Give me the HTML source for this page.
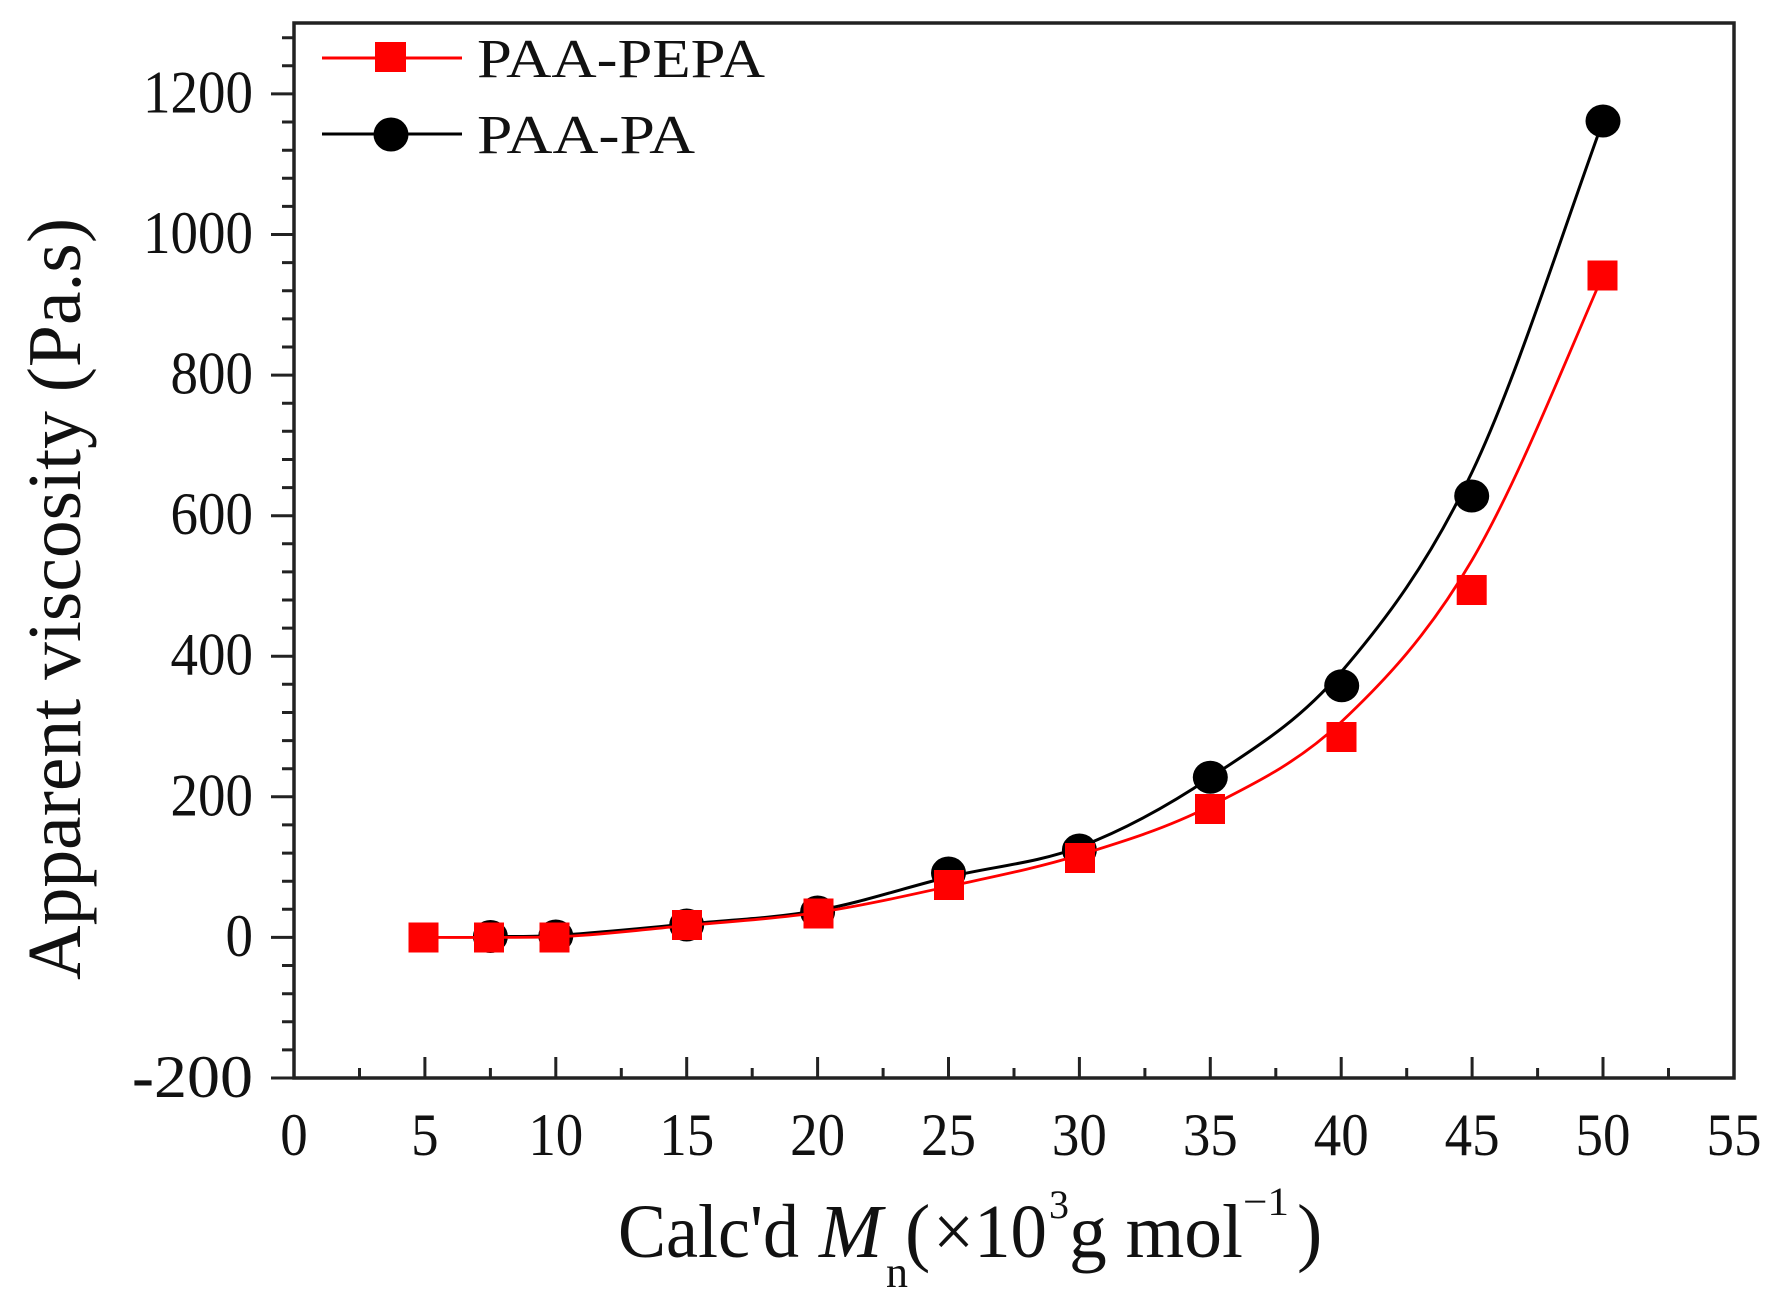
<!DOCTYPE html>
<html>
<head>
<meta charset="utf-8">
<style>
  html, body { margin: 0; padding: 0; background: #ffffff; }
  svg { display: block; }
  text { font-family: "Liberation Serif", "Times New Roman", serif; fill: #111; }
</style>
</head>
<body>
<svg width="1782" height="1311" viewBox="0 0 1782 1311" xmlns="http://www.w3.org/2000/svg">
  <rect x="0" y="0" width="1782" height="1311" fill="#ffffff"/>

  <!-- Y ticks (outward) -->
  <path stroke="#222" stroke-width="3" fill="none" d="
    M271,1078H294 M271,937.4H294 M271,796.8H294 M271,656.2H294 M271,515.7H294 M271,375.1H294 M271,234.5H294 M271,93.9H294
    M282,1049.9H294 M282,1021.8H294 M282,993.7H294 M282,965.5H294
    M282,909.3H294 M282,881.2H294 M282,853.1H294 M282,824.9H294
    M282,768.7H294 M282,740.6H294 M282,712.5H294 M282,684.3H294
    M282,628.1H294 M282,600H294 M282,571.9H294 M282,543.8H294
    M282,487.6H294 M282,459.5H294 M282,431.3H294 M282,403.2H294
    M282,347H294 M282,318.9H294 M282,290.8H294 M282,262.6H294
    M282,206.4H294 M282,178.3H294 M282,150.2H294 M282,122H294
    M282,65.8H294 M282,37.7H294"/>

  <!-- X ticks (inward) -->
  <path stroke="#222" stroke-width="3" fill="none" d="
    M424.9,1078V1057 M555.8,1078V1057 M686.7,1078V1057 M817.6,1078V1057 M948.5,1078V1057
    M1079.4,1078V1057 M1210.3,1078V1057 M1341.2,1078V1057 M1472.1,1078V1057 M1603,1078V1057
    M359.5,1078V1068 M490.4,1078V1068 M621.3,1078V1068 M752.2,1078V1068 M883.1,1078V1068
    M1014,1078V1068 M1144.9,1078V1068 M1275.8,1078V1068 M1406.7,1078V1068 M1537.6,1078V1068 M1668.5,1078V1068"/>

  <!-- Frame -->
  <rect x="294" y="23" width="1440" height="1055" fill="none" stroke="#222" stroke-width="3.5"/>

  <!-- Y tick labels -->
  <g font-size="55" text-anchor="end">
    <text transform="translate(253,112.5) scale(1,1.1)">1200</text>
    <text transform="translate(253,253) scale(1,1.1)">1000</text>
    <text transform="translate(253,393.6) scale(1,1.1)">800</text>
    <text transform="translate(253,534.2) scale(1,1.1)">600</text>
    <text transform="translate(253,674.7) scale(1,1.1)">400</text>
    <text transform="translate(253,815.3) scale(1,1.1)">200</text>
    <text transform="translate(253,955.9) scale(1,1.1)">0</text>
    <text transform="translate(253,1097) scale(1,1.1)" textLength="121" lengthAdjust="spacingAndGlyphs"><tspan font-weight="bold">-</tspan>200</text>
  </g>

  <!-- X tick labels -->
  <g font-size="55" text-anchor="middle">
    <text transform="translate(294,1155) scale(1,1.1)">0</text>
    <text transform="translate(424.9,1155) scale(1,1.1)">5</text>
    <text transform="translate(555.8,1155) scale(1,1.1)">10</text>
    <text transform="translate(686.7,1155) scale(1,1.1)">15</text>
    <text transform="translate(817.6,1155) scale(1,1.1)">20</text>
    <text transform="translate(948.5,1155) scale(1,1.1)">25</text>
    <text transform="translate(1079.4,1155) scale(1,1.1)">30</text>
    <text transform="translate(1210.3,1155) scale(1,1.1)">35</text>
    <text transform="translate(1341.2,1155) scale(1,1.1)">40</text>
    <text transform="translate(1472.1,1155) scale(1,1.1)">45</text>
    <text transform="translate(1603,1155) scale(1,1.1)">50</text>
    <text transform="translate(1734,1155) scale(1,1.1)">55</text>
  </g>

  <!-- Y axis title -->
  <text transform="translate(80,980) rotate(-90)" font-size="76" textLength="762" lengthAdjust="spacingAndGlyphs">Apparent viscosity (Pa.s)</text>

  <!-- X axis title -->
  <text x="618" y="1257" font-size="76" textLength="181" lengthAdjust="spacingAndGlyphs">Calc'd</text>
  <text x="819" y="1257" font-size="76" font-style="italic">M</text>
  <text x="886" y="1287" font-size="44">n</text>
  <text x="905" y="1257" font-size="76">(</text>
  <text x="933" y="1257" font-size="76" textLength="114" lengthAdjust="spacingAndGlyphs">×10</text>
  <text x="1049" y="1218" font-size="40">3</text>
  <text x="1069" y="1257" font-size="76" textLength="174" lengthAdjust="spacingAndGlyphs">g mol</text>
  <text x="1243" y="1215" font-size="40" textLength="46" lengthAdjust="spacingAndGlyphs">−1</text>
  <text x="1297" y="1257" font-size="76">)</text>

  <!-- Black curve (PAA-PA) -->
  <path fill="none" stroke="#000" stroke-width="3" d="
    M490.4,936.5
    C512.2,936.5 534,936.9 555.8,935.5
    C599.4,932.7 643.1,928.2 686.7,924
    C730.3,919.8 774,918.3 817.6,910.5
    C861.2,902.7 904.9,887.6 948.5,877
    C992.1,866.4 1035.8,863.6 1079.4,847
    C1123,830.4 1166.7,806.7 1210.3,777.5
    C1253.9,748.4 1297.6,722.9 1341.2,672
    C1384.8,621.1 1428.5,563.8 1472.1,472
    C1515.7,380.2 1559.4,241 1603,121"/>

  <!-- Black circles -->
  <g fill="#000">
    <ellipse cx="490.4" cy="936.5" rx="17.5" ry="16.5"/>
    <ellipse cx="555.8" cy="936" rx="17.5" ry="16.5"/>
    <ellipse cx="686.7" cy="925" rx="17.5" ry="16.5"/>
    <ellipse cx="817.6" cy="912" rx="17.5" ry="16.5"/>
    <ellipse cx="948.5" cy="873" rx="17.5" ry="16.5"/>
    <ellipse cx="1079.4" cy="850" rx="17.5" ry="16.5"/>
    <ellipse cx="1210.3" cy="777.3" rx="17.5" ry="16.5"/>
    <ellipse cx="1341.7" cy="685.7" rx="17.5" ry="16.5"/>
    <ellipse cx="1471.7" cy="496" rx="17.5" ry="16.5"/>
    <ellipse cx="1603" cy="121" rx="17.5" ry="16.5"/>
  </g>

  <!-- Red curve (PAA-PEPA) -->
  <path fill="none" stroke="#ff0000" stroke-width="2.8" d="
    M424.9,937.4
    C468.5,937.4 512.2,937.6 555.8,937
    C599.4,935 643.1,929.6 686.7,925.5
    C730.3,921.4 774,919 817.6,912.5
    C861.2,906 904.9,896.1 948.5,886.5
    C992.1,876.9 1035.8,868.4 1079.4,855
    C1123,841.6 1166.7,828.2 1210.3,806
    C1253.9,783.8 1297.6,763 1341.2,722
    C1384.8,681 1428.5,634.5 1472.1,560
    C1515.7,485.5 1559.4,375.3 1603,275"/>

  <!-- Red squares -->
  <g fill="#ff0000">
    <rect x="408.5" y="922.5" width="30" height="30"/>
    <rect x="474" y="922.5" width="30" height="30"/>
    <rect x="539.5" y="922.5" width="30" height="30"/>
    <rect x="672" y="910" width="30" height="30"/>
    <rect x="803.5" y="898.5" width="30" height="30"/>
    <rect x="934" y="870" width="30" height="30"/>
    <rect x="1065" y="843" width="30" height="30"/>
    <rect x="1195" y="794" width="30" height="30"/>
    <rect x="1326.5" y="722" width="30" height="30"/>
    <rect x="1456.7" y="575" width="30" height="30"/>
    <rect x="1587.5" y="260.5" width="30" height="30"/>
  </g>

  <!-- Legend -->
  <line x1="322" y1="58" x2="462" y2="58" stroke="#ff0000" stroke-width="3"/>
  <rect x="375" y="42" width="31" height="30" fill="#ff0000"/>
  <text x="477" y="77" font-size="55" textLength="288" lengthAdjust="spacingAndGlyphs">PAA-PEPA</text>

  <line x1="322" y1="134" x2="462" y2="134" stroke="#000" stroke-width="3"/>
  <ellipse cx="391" cy="134.5" rx="17.5" ry="17" fill="#000"/>
  <text x="477" y="153" font-size="55" textLength="218" lengthAdjust="spacingAndGlyphs">PAA-PA</text>
</svg>
</body>
</html>
